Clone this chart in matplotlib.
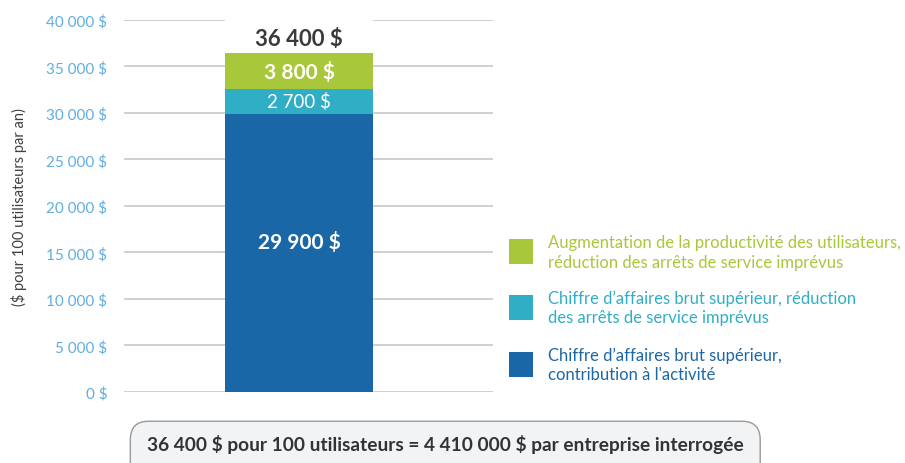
import matplotlib.pyplot as plt
from matplotlib.patches import Rectangle, FancyBboxPatch

# data
segments = ["Chiffre d\u2019affaires brut supérieur,\ncontribution à l'activité",
            "Chiffre d\u2019affaires brut supérieur, réduction\ndes arrêts de service imprévus",
            "Augmentation de la productivité des utilisateurs,\nréduction des arrêts de service imprévus"]
values = [29900, 2700, 3800]
total = 36400
colors = ["#1a67a8", "#30aec6", "#a9c73a"]
label_bold = [True, False, True]
yticks = [0, 5000, 10000, 15000, 20000, 25000, 30000, 35000, 40000]
footer = "36 400 $ pour 100 utilisateurs = 4 410 000 $ par entreprise interrogée"

plt.rcParams['font.family'] = ['Lato', 'DejaVu Sans']
plt.rcParams['text.parse_math'] = False

def fmt(v):
    return "{:,}".format(v).replace(",", " ") + " $"

fig = plt.figure(figsize=(9.05, 4.64), dpi=100)
ax = fig.add_axes([0.137, 0.153, 0.408, 0.802])

bx = 0.474
bw = 0.401
bottom = 0
for i, (v, c, b) in enumerate(zip(values, colors, label_bold)):
    ax.bar(bx, v, bw, bottom=bottom, color=c, zorder=3)
    frac = 0.54 if i == 0 else 0.5
    ax.text(bx, bottom + v * frac, fmt(v), ha='center', va='center', color='white',
            fontsize=15 if b else 13.5, fontweight='bold' if b else 'normal', zorder=4)
    bottom += v

# white area above bar hides the top gridline
ax.bar(bx, 40600 - total, bw, bottom=total, color='white', zorder=2, clip_on=False)
ax.text(bx, 38000, fmt(total), ha='center', va='center', color='#3a3a3a',
        fontsize=16, fontweight='bold', zorder=4)

ax.set_xlim(0, 1)
ax.set_ylim(0, 40000)
ax.set_yticks(yticks)
ax.set_yticklabels([fmt(t) for t in yticks])
ax.tick_params(axis='y', colors='#5eaee0', labelsize=11, length=0, pad=12)
ax.set_xticks([])
ax.grid(axis='y', color='#c8c8c8', linewidth=1.2, zorder=0)
for s in ax.spines.values():
    s.set_visible(False)
ax.set_ylabel("($ pour 100 utilisateurs par an)", fontsize=10.5, color='#404040', labelpad=14)

# legend, top to bottom
ly = [0.455, 0.336, 0.213]
for i, y in zip([2, 1, 0], ly):
    fig.patches.append(Rectangle((0.562, y - 0.027), 0.027, 0.054, transform=fig.transFigure,
                                 facecolor=colors[i], edgecolor='none'))
    fig.text(0.605, y, segments[i], color=colors[i], fontsize=12, va='center',
             ha='left', linespacing=1.25)

box = FancyBboxPatch((0.144, -0.05), 0.696, 0.14, transform=fig.transFigure,
                     boxstyle="round,pad=0,rounding_size=0.02", facecolor='#f2f3f4',
                     edgecolor='#9a9a9a', linewidth=1, mutation_aspect=2)
fig.patches.append(box)
fig.text(0.492, 0.043, footer, ha='center', va='center', fontsize=13.8,
         fontweight='bold', color='#333333')

fig.savefig('out.png', dpi=100)
